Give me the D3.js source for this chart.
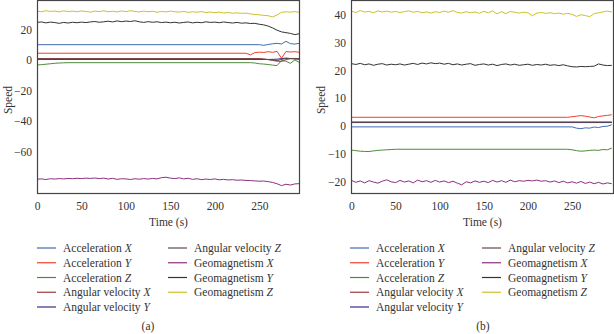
<!DOCTYPE html>
<html>
<head>
<meta charset="utf-8">
<script src="https://cdn.jsdelivr.net/npm/d3@7"></script>
<style>
  body { margin: 0; background: #fff; }
  svg text { font-family: "Liberation Serif", "Times New Roman", serif; fill: #333; }
</style>
</head>
<body>
<svg id="chart" width="614" height="334"></svg>
<script>
// series names (legend order) and colours
const seriesNames = ['Acceleration X', 'Acceleration Y', 'Acceleration Z',
  'Angular velocity X', 'Angular velocity Y', 'Angular velocity Z',
  'Geomagnetism X', 'Geomagnetism Y', 'Geomagnetism Z'];
const seriesColors = ['#3f6db0', '#f0402c', '#4e8a3c', '#9a3c3c', '#3a2c86',
  '#5e4a4a', '#8e2f80', '#333333', '#cfc12a'];

const xTicks = [0, 50, 100, 150, 200, 250];
const yTicksA = [20, 0, -20, -40, -60];
const yTicksB = [40, 30, 20, 10, 0, -10, -20];

// sampled time axis (s)
const timeFull = [0, 5, 10, 15, 20, 25, 30, 35, 40, 45, 50, 55, 60, 65, 70, 75, 80, 85, 90, 95,
  100, 105, 110, 115, 120, 125, 130, 135, 140, 145, 150, 155, 160, 165, 170, 175, 180, 185, 190, 195,
  200, 205, 210, 215, 220, 225, 230, 235, 240, 245, 250, 255, 260, 265, 270, 275, 280, 285, 290, 295];

// ---- panel (a) ----
const accXTimeA = [0, 250, 255, 260, 265, 270, 275, 280, 285, 290, 295];
const accXA = [10.0, 10.0, 9.6, 10.1, 10.6, 10.9, 10.5, 12.2, 10.7, 10.4, 10.9];
const accYTimeA = [0, 235, 240, 245, 250, 255, 260, 265, 270, 275, 280, 285, 290, 295];
const accYA = [4.4, 4.4, 3.3, 4.8, 5.1, 4.9, 5.4, 5.0, 5.6, 1.1, 5.5, 5.2, 5.4, 5.0];
const accZTimeA = [0, 5, 10, 15, 20, 25, 30, 35, 240, 245, 250, 255, 260, 265, 270, 275, 280, 285, 290, 295];
const accZA = [-3.3, -3.1, -2.8, -2.5, -2.2, -2.0, -1.9, -1.8, -1.8, -2.0, -2.5, -2.7, -3.0, -3.4, -3.7, -0.4, -0.8, -2.2, 0.0, -1.6];
const angXTimeA = [0, 250, 255, 260, 265, 270, 275, 280, 285, 290, 295];
const angXA = [0.9, 0.9, 0.6, 0.2, -0.3, -0.8, -1.0, 0.2, 0.8, 1.0, 0.8];
const angYTimeA = [0, 260, 270, 280, 290, 295];
const angYA = [0.3, 0.3, 0.5, 1.2, 0.6, 0.5];
const angZTimeA = [0, 250, 260, 270, 280, 290, 295];
const angZA = [0.6, 0.6, 0.3, -0.4, 1.0, 0.9, 0.8];
const geoXA = [-78.2, -78.0, -78.4, -77.9, -78.1, -77.8, -78.0, -77.7, -77.9, -77.6,
  -77.8, -77.5, -77.7, -77.4, -77.8, -77.5, -78.1, -77.6, -78.3, -77.9,
  -78.0, -78.4, -77.9, -78.2, -77.8, -78.1, -77.7, -78.0, -77.2, -76.9,
  -77.5, -77.8, -77.3, -78.0, -77.6, -78.3, -77.9, -78.5, -78.1, -78.4,
  -78.0, -78.6, -78.3, -78.7, -78.5, -78.9, -78.7, -79.0, -79.1, -79.3,
  -79.5, -79.4, -79.8, -80.3, -81.2, -82.4, -81.5, -82.0, -81.3, -81.1];
const geoYA = [24.6, 24.9, 24.3, 24.8, 24.5, 24.0, 24.6, 24.2, 24.7, 24.4,
  24.8, 24.5, 24.9, 25.2, 24.7, 25.0, 25.4, 24.9, 25.6, 25.1,
  25.5, 25.2, 25.7, 25.0, 24.6, 25.1, 24.7, 25.0, 24.5, 24.8,
  24.4, 24.7, 24.2, 24.6, 24.9, 24.3, 24.7, 24.4, 25.0, 24.6,
  24.8, 24.4, 24.9, 24.5, 24.2, 24.6, 24.1, 24.3, 23.9, 24.0,
  23.4, 23.0, 22.2, 21.0, 19.5, 18.4, 17.9, 17.4, 16.6, 17.2];
const geoZA = [32.0, 31.6, 32.3, 31.8, 32.1, 31.5, 32.2, 31.7, 32.0, 31.6,
  32.1, 31.8, 31.4, 32.0, 31.7, 32.2, 31.6, 31.9, 31.5, 32.1,
  31.7, 32.3, 31.8, 31.5, 32.0, 31.6, 31.9, 31.3, 31.8, 31.5,
  32.0, 31.6, 31.4, 31.8, 31.2, 31.6, 31.3, 31.7, 31.1, 31.4,
  31.0, 31.3, 30.8, 31.1, 30.6, 30.9, 30.5, 30.7, 30.2, 29.8,
  29.6, 29.2, 29.0, 28.2, 29.5, 31.2, 31.6, 31.3, 31.7, 31.2];

// ---- panel (b) ----
const accXTimeB = [0, 250, 255, 260, 265, 270, 275, 280, 285, 290, 295];
const accXB = [-0.35, -0.35, -0.8, -1.0, -0.7, -0.8, -0.4, -0.6, -0.2, -0.1, 0.4];
const accYTimeB = [0, 245, 250, 255, 260, 265, 270, 275, 280, 285, 290, 295];
const accYB = [3.1, 3.1, 3.3, 3.5, 3.7, 3.5, 3.2, 2.9, 3.4, 3.6, 3.8, 4.0];
const accZTimeB = [0, 5, 10, 15, 20, 25, 30, 35, 40, 45, 50, 245, 250, 255, 260, 265, 270, 275, 280, 285, 290, 295];
const accZB = [-8.7, -8.9, -9.1, -9.2, -9.2, -9.0, -8.8, -8.7, -8.6, -8.5, -8.4, -8.4, -8.6, -8.9, -9.1, -9.0, -8.8, -8.7, -8.8, -8.5, -8.6, -8.0];
const angXTimeB = [0, 295];
const angXB = [1.4, 1.4];
const angYTimeB = [0, 295];
const angYB = [1.2, 1.2];
const angZTimeB = [0, 295];
const angZB = [1.3, 1.3];
const geoXB = [-19.6, -20.3, -19.8, -20.5, -19.7, -20.2, -20.6, -19.9, -19.4, -20.1,
  -20.4, -19.6, -20.2, -19.8, -20.5, -19.5, -20.1, -19.7, -20.3, -19.6,
  -20.2, -19.8, -20.4, -19.9, -20.6, -21.2, -20.1, -20.5, -19.8, -20.3,
  -19.9, -20.4, -19.6, -20.2, -19.7, -20.3, -19.5, -20.1, -19.7, -19.9,
  -19.6, -19.8, -19.5, -19.9, -19.7, -20.2, -19.8, -20.4, -19.9, -20.5,
  -20.1, -20.6, -20.0, -20.7, -20.2, -20.8, -20.3, -20.9, -20.5, -20.8];
const geoYB = [22.4, 22.1, 22.5, 22.0, 22.3, 21.8, 22.2, 22.4, 21.9, 22.2,
  22.0, 22.3, 21.9, 22.2, 22.5, 22.1, 22.6, 22.3, 22.7, 22.4,
  22.6, 22.2, 22.5, 22.0, 22.3, 21.9, 22.2, 22.4, 21.8, 22.1,
  22.3, 21.9, 22.2, 21.7, 22.1, 22.3, 21.9, 22.2, 21.8, 22.0,
  22.2, 21.8, 22.1, 21.9, 22.2, 21.8, 22.0, 21.7, 22.0, 21.6,
  21.3, 21.2, 21.4, 21.3, 21.4, 21.5, 22.3, 21.9, 21.7, 21.8];
const geoZB = [41.3, 40.8, 41.5, 41.0, 41.2, 40.7, 41.4, 41.0, 41.3, 40.9,
  41.2, 40.8, 41.1, 41.4, 40.9, 41.2, 40.7, 41.0, 40.6, 41.1,
  40.8, 41.3, 40.9, 41.5, 40.8, 40.6, 41.1, 40.7, 41.0, 40.5,
  41.2, 40.7, 41.4, 40.3, 41.1, 40.4, 41.2, 40.9, 40.6, 40.9,
  40.7, 39.6, 40.6, 40.8, 40.5, 40.7, 40.4, 40.6, 40.2, 40.5,
  40.1, 39.4, 40.0, 39.7, 39.3, 40.4, 40.7, 41.0, 41.3, 41.0];

const panelA = [
  [accXTimeA, accXA], [accYTimeA, accYA], [accZTimeA, accZA],
  [angXTimeA, angXA], [angYTimeA, angYA], [angZTimeA, angZA],
  [timeFull, geoXA], [timeFull, geoYA], [timeFull, geoZA]
];
const panelB = [
  [accXTimeB, accXB], [accYTimeB, accYB], [accZTimeB, accZB],
  [angXTimeB, angXB], [angYTimeB, angYB], [angZTimeB, angZB],
  [timeFull, geoXB], [timeFull, geoYB], [timeFull, geoZB]
];

const svg = d3.select('#chart');
const fmt = d => (d < 0 ? '\u2212' + Math.abs(d) : '' + d);

function drawPanel(opts) {
  const { left, right, top, bottom, xDomain, yDomain, yTicks, series, label, legendX } = opts;
  const x = d3.scaleLinear().domain(xDomain).range([left, right]);
  const y = d3.scaleLinear().domain(yDomain).range([bottom, top]);

  const g = svg.append('g');

  // lines
  const line = d3.line().x(d => x(d[0])).y(d => y(d[1]));
  series.forEach((s, i) => {
    const pts = s[0].map((t, j) => [t, s[1][j]]);
    g.append('path')
      .datum(pts)
      .attr('fill', 'none')
      .attr('stroke', seriesColors[i])
      .attr('stroke-width', 1)
      .attr('d', line);
  });

  // frame
  g.append('rect')
    .attr('x', left + 0.5).attr('y', top + 0.5)
    .attr('width', right - left - 1).attr('height', bottom - top - 1)
    .attr('fill', 'none').attr('stroke', '#444').attr('stroke-width', 1.2);

  // axes
  const xAxis = g.append('g')
    .attr('transform', `translate(0,${bottom})`)
    .call(d3.axisBottom(x).tickValues(xTicks).tickSize(0).tickPadding(8));
  const yAxis = g.append('g')
    .attr('transform', `translate(${left},0)`)
    .call(d3.axisLeft(y).tickValues(yTicks).tickFormat(fmt).tickSize(0).tickPadding(5));
  [xAxis, yAxis].forEach(a => {
    a.select('.domain').remove();
    a.selectAll('text').style('font-size', '11.5px').attr('fill', '#333')
      .style('font-family', '"Liberation Serif", serif');
  });

  // axis titles
  g.append('text')
    .attr('x', (left + right) / 2).attr('y', bottom + 32)
    .attr('text-anchor', 'middle').style('font-size', '11.5px')
    .text('Time (s)');
  g.append('text')
    .attr('transform', `translate(${opts.speedX},100) rotate(-90)`)
    .attr('text-anchor', 'middle').style('font-size', '11.5px')
    .text('Speed');

  // legend
  seriesNames.forEach((name, i) => {
    const col = i < 5 ? 0 : 1;
    const row = i < 5 ? i : i - 5;
    const lx = legendX[col];
    const ly = 248 + row * 14.75;
    g.append('line')
      .attr('x1', lx).attr('x2', lx + 19)
      .attr('y1', ly).attr('y2', ly)
      .attr('stroke', seriesColors[i]).attr('stroke-width', 1.2);
    const parts = name.split(' ');
    const axisLetter = parts.pop();
    const t = g.append('text')
      .attr('x', lx + 26).attr('y', ly + 4)
      .style('font-size', '11.5px');
    t.append('tspan').text(parts.join(' ') + ' ');
    t.append('tspan').style('font-style', 'italic').text(axisLetter);
  });

  // caption
  g.append('text')
    .attr('x', opts.captionX).attr('y', 330)
    .attr('text-anchor', 'middle').style('font-size', '11.5px')
    .text(label);
}

drawPanel({
  left: 37, right: 300, top: 0, bottom: 194,
  xDomain: [0, 295.8], yDomain: [-87.9, 39.3], yTicks: yTicksA,
  series: panelA, label: '(a)', legendX: [37, 168], speedX: 12, captionX: 148
});

drawPanel({
  left: 351, right: 614, top: 0, bottom: 194,
  xDomain: [-0.5, 297.5], yDomain: [-24.5, 45.3], yTicks: yTicksB,
  series: panelB, label: '(b)', legendX: [350, 482], speedX: 325, captionX: 483
});
</script>
</body>
</html>
